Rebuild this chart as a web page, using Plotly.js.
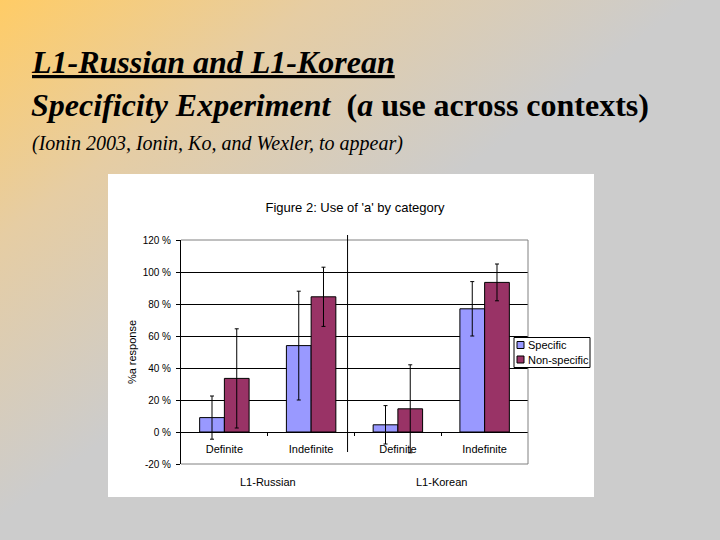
<!DOCTYPE html>
<html>
<head>
<meta charset="utf-8">
<script src="https://cdn.plot.ly/plotly-3.0.1.min.js"></script>
<style>
  html, body { margin: 0; padding: 0; }
  body {
    width: 720px; height: 540px; overflow: hidden;
    background: linear-gradient(to bottom right, #FFCC66 0%, #E6CDA3 22%, #CCCCCC 48%, #CCCCCC 100%);
  }
  #chart { width: 720px; height: 540px; }
</style>
</head>
<body>
<div id="chart"></div>
<script>
// ---- data ----
const categories = ["Definite", "Indefinite", "Definite", "Indefinite"];
const groups = ["L1-Russian", "L1-Korean"];
const groupPositions = [0.5, 2.5];
const specificValues = [9, 54, 4.5, 77];
const specificErrors = [13.5, 34, 12, 17];
const nonSpecificValues = [33.5, 84.5, 14.5, 93.5];
const nonSpecificErrors = [31, 18.5, 27.5, 11.5];
const seriesNames = ["Specific", "Non-specific"];
const seriesColors = ["#9999FF", "#993366"];
const yTicks = [-20, 0, 20, 40, 60, 80, 100, 120];
const yTickLabels = yTicks.map(v => v + ' %');

const xIdx = categories.map((c, i) => i);

const errStyle = (arr) => ({ type: 'data', array: arr, visible: true, color: '#000', thickness: 1, width: 2 });

const traces = [
  { type: 'bar', name: seriesNames[0], x: xIdx, y: specificValues,
    marker: { color: seriesColors[0], line: { color: '#000', width: 1 } },
    error_y: errStyle(specificErrors), hoverinfo: 'none' },
  { type: 'bar', name: seriesNames[1], x: xIdx, y: nonSpecificValues,
    marker: { color: seriesColors[1], line: { color: '#000', width: 1 } },
    error_y: errStyle(nonSpecificErrors), hoverinfo: 'none' }
];

const L = 181, R = 192, T = 240, B = 76;
const PW = 720 - L - R, PH = 540 - T - B;
const px = (xp) => (xp - L) / PW;       // pixel -> paper x
const py = (yp) => (T + PH - yp) / PH;  // pixel -> paper y

const sansFont = 'Liberation Sans, Arial, sans-serif';
const serifFont = 'Liberation Serif, Times New Roman, serif';

const annotations = [
  { xref: 'paper', yref: 'paper', x: px(29), y: py(62), xanchor: 'left', yanchor: 'middle', showarrow: false,
    text: '<b><i><u>L1-Russian and L1-Korean</u></i></b>', font: { family: serifFont, size: 32, color: '#000' } },
  { xref: 'paper', yref: 'paper', x: px(29), y: py(105), xanchor: 'left', yanchor: 'middle', showarrow: false,
    text: '<b><i>Specificity Experiment</i>  (<i>a</i> use across contexts)</b>', font: { family: serifFont, size: 32, color: '#000' } },
  { xref: 'paper', yref: 'paper', x: px(30), y: py(143), xanchor: 'left', yanchor: 'middle', showarrow: false,
    text: '<i>(Ionin 2003, Ionin, Ko, and Wexler, to appear)</i>', font: { family: serifFont, size: 20, color: '#000' } }
];
groups.forEach((g, i) => annotations.push({
  xref: 'x', yref: 'paper', x: groupPositions[i], y: py(482), xanchor: 'center', yanchor: 'middle',
  showarrow: false, text: g, font: { family: sansFont, size: 11, color: '#000' }
}));

const shapes = [
  // white chart area
  { type: 'rect', xref: 'paper', yref: 'paper', x0: px(108), x1: px(594), y0: py(497), y1: py(174),
    fillcolor: '#FFFFFF', line: { width: 0 }, layer: 'below' },
  // plot frame (top, right, bottom) in grey
  { type: 'line', xref: 'paper', yref: 'paper', x0: 0, x1: 1, y0: 1, y1: 1, line: { color: '#808080', width: 1 } },
  { type: 'line', xref: 'paper', yref: 'paper', x0: 1, x1: 1, y0: 0, y1: 1, line: { color: '#808080', width: 1 } },
  { type: 'line', xref: 'paper', yref: 'paper', x0: 0, x1: 1, y0: 0, y1: 0, line: { color: '#808080', width: 1 } },
  // group divider
  { type: 'line', xref: 'x', yref: 'paper', x0: 1.42, x1: 1.42, y0: py(452), y1: py(235), line: { color: '#000', width: 1 } },
  // legend box
  { type: 'rect', xref: 'paper', yref: 'paper', x0: px(514), x1: px(590), y0: py(367.5), y1: py(337.5),
    fillcolor: '#FFFFFF', line: { color: '#000', width: 1 } }
];
// legend entries (swatch + label) built from the series arrays
seriesNames.forEach((name, i) => {
  const cy = 345 + i * 14.5;
  shapes.push({ type: 'rect', xref: 'paper', yref: 'paper', x0: px(517), x1: px(524), y0: py(cy + 3.5), y1: py(cy - 3.5),
    fillcolor: seriesColors[i], line: { color: '#000', width: 1 } });
  annotations.push({ xref: 'paper', yref: 'paper', x: px(526), y: py(cy), xanchor: 'left', yanchor: 'middle',
    showarrow: false, text: name, font: { family: sansFont, size: 11, color: '#000' } });
});

const layout = {
  width: 720, height: 540,
  margin: { l: L, r: R, t: T, b: B, pad: 0 },
  paper_bgcolor: 'rgba(0,0,0,0)',
  plot_bgcolor: '#FFFFFF',
  showlegend: false,
  barmode: 'group', bargap: 0.43, bargroupgap: 0,
  title: { text: "Figure 2: Use of 'a' by category", x: 355 / 720, xanchor: 'center', y: 1 - 207 / 540, yanchor: 'middle',
    font: { family: sansFont, size: 13, color: '#000' } },
  font: { family: sansFont, size: 10, color: '#000' },
  xaxis: {
    type: 'linear', range: [-0.5, 3.5], fixedrange: true,
    tickmode: 'array', tickvals: xIdx, ticktext: categories, ticks: '',
    tickfont: { family: sansFont, size: 11, color: '#000' },
    ticklabelstandoff: 9,
    anchor: 'free', position: 20 / 140,
    showline: false, showgrid: false, zeroline: false,
    minor: { tickmode: 'array', tickvals: [0.5, 1.5, 2.5], ticks: 'outside', ticklen: 3, tickwidth: 1, tickcolor: '#000', showgrid: false }
  },
  yaxis: {
    range: [-20, 120], tickmode: 'array', tickvals: yTicks, ticktext: yTickLabels, fixedrange: true,
    ticks: 'outside', ticklen: 4, tickwidth: 1, tickcolor: '#000',
    tickfont: { family: sansFont, size: 10, color: '#000' },
    ticklabelstandoff: 3,
    showline: true, linecolor: '#000', linewidth: 1,
    showgrid: true, gridcolor: '#000', gridwidth: 1,
    zeroline: true, zerolinecolor: '#000', zerolinewidth: 1,
    title: { text: '%a response', font: { family: sansFont, size: 11, color: '#000' }, standoff: 3 }
  },
  annotations: annotations,
  shapes: shapes
};

Plotly.newPlot('chart', traces, layout, { staticPlot: true, displayModeBar: false });
</script>
</body>
</html>
